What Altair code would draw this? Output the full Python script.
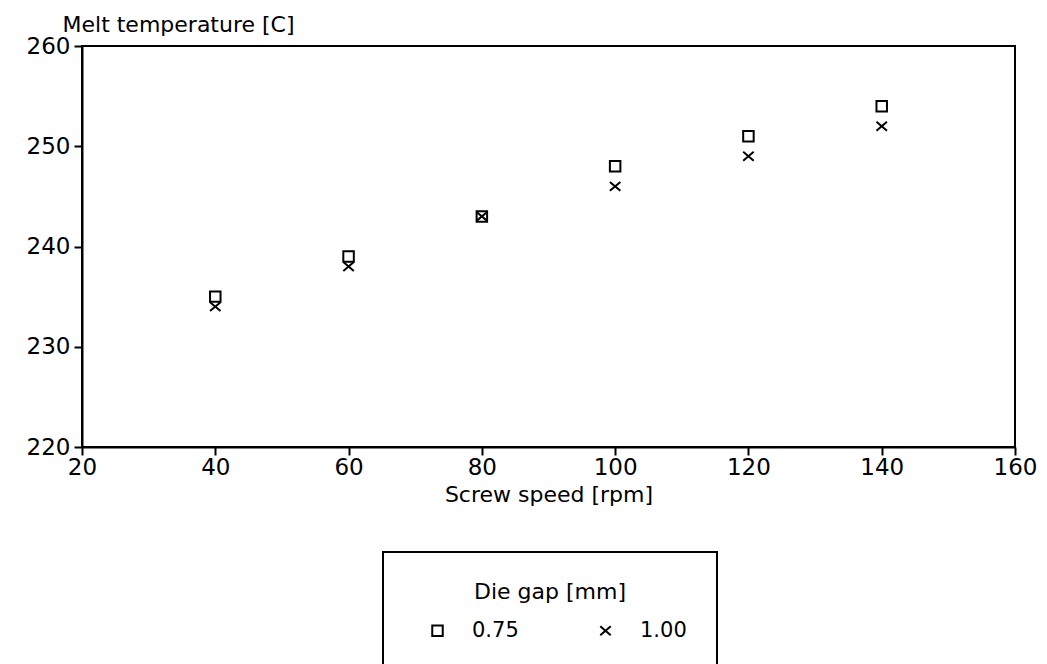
import altair as alt
import pandas as pd

speeds = [40, 60, 80, 100, 120, 140]
temp_075 = [235, 239, 243, 248, 251, 254]
temp_100 = [234, 238, 243, 246, 249, 252]
gap_labels = ["0.75", "1.00"]
x_ticks = [20, 40, 60, 80, 100, 120, 140, 160]
y_ticks = [220, 230, 240, 250, 260]

rows = []
for s, t in zip(speeds, temp_075):
    rows.append({"speed": s, "temp": t, "gap": gap_labels[0]})
for s, t in zip(speeds, temp_100):
    rows.append({"speed": s, "temp": t, "gap": gap_labels[1]})
df = pd.DataFrame(rows)

FONT = "DejaVu Sans"
XSHAPE = "M-1,-0.85L1,0.85M-1,0.85L1,-0.85"

chart = alt.Chart(df).mark_point(
    filled=False, color="black", strokeWidth=2, size=110, opacity=1
).encode(
    x=alt.X("speed:Q", scale=alt.Scale(domain=[20, 160], nice=False, zero=False),
            axis=alt.Axis(values=x_ticks, title="Screw speed [rpm]", grid=False,
                          tickSize=8, labelPadding=1, titlePadding=5,
                          labelFlush=False, labelOverlap=False)),
    y=alt.Y("temp:Q", scale=alt.Scale(domain=[220, 260], nice=False, zero=False),
            axis=alt.Axis(values=y_ticks, title="Melt temperature [C]", grid=False,
                          tickSize=8, labelPadding=4, titleAngle=0, titleX=-20,
                          titleY=-10, titleAlign="left", titleBaseline="bottom",
                          labelFlush=False, labelOverlap=False)),
    shape=alt.Shape("gap:N", scale=alt.Scale(domain=gap_labels, range=["square", XSHAPE]),
                    legend=alt.Legend(orient="none", legendX=301, legendY=506,
                                      direction="horizontal", title="Die gap [mm]",
                                      titleAnchor="middle", strokeColor="black",
                                      padding=30, titlePadding=16, columnPadding=62,
                                      labelOffset=24, symbolSize=110, symbolStrokeWidth=2,
                                      symbolOffset=14,
                                      symbolStrokeColor="black", symbolFillColor="transparent")),
).properties(
    width=933, height=401,
    autosize=alt.AutoSizeParams(type="none"),
    padding={"left": 82, "top": 46, "right": 32, "bottom": 217},
).configure(font=FONT).configure_view(
    stroke="black", strokeWidth=2
).configure_axis(
    domainColor="black", domainWidth=2, tickColor="black", tickWidth=2,
    labelColor="black", titleColor="black", labelFont=FONT, titleFont=FONT,
    labelFontSize=23, titleFontSize=22, titleFontWeight="normal"
).configure_legend(
    titleFont=FONT, labelFont=FONT, titleFontSize=22, labelFontSize=21,
    titleFontWeight="normal", titleColor="black", labelColor="black", strokeWidth=2
)

chart.save("out.html", embed_options={"renderer": "svg", "actions": False})
